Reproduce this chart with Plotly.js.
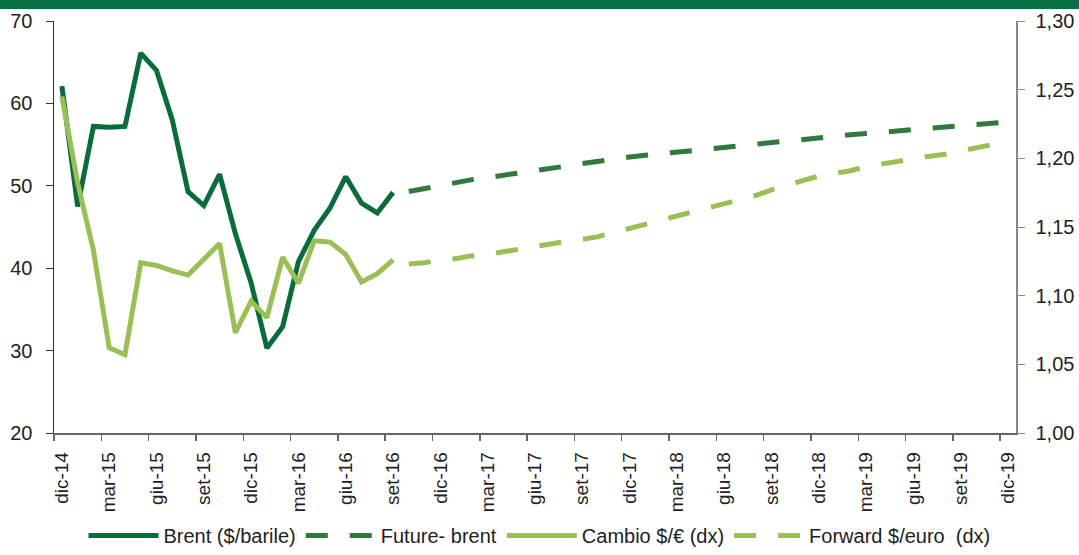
<!DOCTYPE html>
<html>
<head>
<meta charset="utf-8">
<script src="https://cdn.plot.ly/plotly-3.0.1.min.js"></script>
<style>
  html, body { margin: 0; padding: 0; background: #fff; }
  #topbar { position: absolute; left: 0; top: 0; width: 1079px; height: 9px; background: #087044; }
  #chart { width: 1079px; height: 555px; }
</style>
</head>
<body>
<div id="chart"></div>
<div id="topbar"></div>
<script>
// months dic-14 .. dic-19 (61 categories), labels every quarter
const tickLabels = [
  'dic-14', 'mar-15', 'giu-15', 'set-15', 'dic-15', 'mar-16', 'giu-16', 'set-16',
  'dic-16', 'mar-17', 'giu-17', 'set-17', 'dic-17', 'mar-18', 'giu-18', 'set-18',
  'dic-18', 'mar-19', 'giu-19', 'set-19', 'dic-19',
];
const tickPos = tickLabels.map((_, i) => i * 3);

// Brent spot, dic-14 .. set-16
const brent = [
  62.1, 47.5, 57.2, 57.1, 57.2, 66.1, 64.0, 58.0, 49.3, 47.6, 51.4,
  44.2, 38.2, 30.3, 32.9, 40.8, 44.6, 47.3, 51.1, 47.9, 46.7, 49.2,
];
// Cambio $/€, dic-14 .. set-16
const cambio = [
  1.245, 1.182, 1.133, 1.062, 1.057, 1.124, 1.122, 1.118, 1.115, 1.127, 1.138,
  1.073, 1.096, 1.084, 1.128, 1.109, 1.140, 1.139, 1.130, 1.110, 1.116, 1.126,
];
// Future brent, ott-16 .. dic-19
const futureBrent = [
  49.3, 49.7, 50.1, 50.5, 50.75, 51.0, 51.25, 51.5, 51.8, 52.1,
  52.4, 52.7, 53.0, 53.25, 53.5, 53.7, 53.9, 54.1, 54.3, 54.5,
  54.7, 54.9, 55.1, 55.3, 55.5, 55.7, 55.9, 56.05, 56.2, 56.35,
  56.5, 56.65, 56.8, 56.95, 57.1, 57.25, 57.4, 57.6, 57.75,
];
// Forward $/euro, ott-16 .. dic-19
const forwardEuro = [
  1.123, 1.124, 1.126, 1.127, 1.129, 1.130, 1.132, 1.134, 1.136, 1.138,
  1.1395, 1.141, 1.143, 1.146, 1.149, 1.152, 1.155, 1.158, 1.161, 1.164,
  1.167, 1.170, 1.173, 1.177, 1.180, 1.184, 1.187, 1.189, 1.191, 1.194,
  1.196, 1.198, 1.200, 1.2015, 1.203, 1.2055, 1.208, 1.210, 1.212,
];

const spotX = brent.map((_, i) => i);
const fwdX = futureBrent.map((_, i) => i + brent.length);

const DARK = '#0a6c3b';
const MID = '#2f7a3c';
const LIGHT = '#9bbf57';
const DASH = '22px,22px';

const traces = [
  {
    x: spotX, y: brent, name: 'Brent ($/barile)', type: 'scatter', mode: 'lines',
    line: { color: DARK, width: 5 },
  },
  {
    x: fwdX, y: futureBrent, name: 'Future- brent', type: 'scatter', mode: 'lines',
    line: { color: MID, width: 5, dash: DASH },
  },
  {
    x: spotX, y: cambio, name: 'Cambio $/€ (dx)', type: 'scatter', mode: 'lines', yaxis: 'y2',
    line: { color: LIGHT, width: 5 },
  },
  {
    x: fwdX, y: forwardEuro, name: 'Forward $/euro  (dx)', type: 'scatter', mode: 'lines', yaxis: 'y2',
    line: { color: LIGHT, width: 5, dash: DASH },
  },
];

const FONT = 'Liberation Sans, Arial, sans-serif';

const layout = {
  width: 1079,
  height: 555,
  margin: { l: 54, r: 63, t: 21, b: 122, autoexpand: false },
  separators: ',.',
  plot_bgcolor: '#fff',
  paper_bgcolor: '#fff',
  font: { family: FONT, color: '#222' },
  xaxis: {
    range: [-0.5, 60.5],
    tickmode: 'array',
    tickvals: tickPos,
    ticktext: tickLabels,
    tickangle: -90,
    ticks: '',
    tickfont: { size: 19, color: '#222' },
    ticklabelstandoff: 10,
    showgrid: false,
    zeroline: false,
    showline: true,
    linecolor: '#666',
    linewidth: 1.5,
    minor: { tick0: -0.5, dtick: 3, ticks: 'outside', ticklen: 6, tickcolor: '#666', tickwidth: 1.5, showgrid: false },
  },
  yaxis: {
    range: [20, 70],
    dtick: 10,
    ticks: 'outside',
    ticklen: 7,
    tickcolor: '#333',
    tickfont: { size: 20, color: '#222' },
    ticklabelstandoff: 9,
    showgrid: false,
    zeroline: false,
    showline: true,
    linecolor: '#333',
    linewidth: 1.5,
  },
  yaxis2: {
    overlaying: 'y',
    side: 'right',
    range: [1.0, 1.3],
    dtick: 0.05,
    tickformat: '.2f',
    ticks: 'outside',
    ticklen: 7,
    tickcolor: '#888',
    tickfont: { size: 20, color: '#222' },
    ticklabelstandoff: 7,
    showgrid: false,
    zeroline: false,
    showline: true,
    linecolor: '#888',
    linewidth: 1.5,
  },
  showlegend: true,
  legend: {
    orientation: 'h',
    x: 0.5,
    xref: 'container',
    xanchor: 'center',
    y: 0,
    yref: 'container',
    yanchor: 'bottom',
    itemwidth: 70,
    font: { size: 20, color: '#222' },
    traceorder: 'normal',
  },
};

Plotly.newPlot('chart', traces, layout, { displayModeBar: false, staticPlot: true });
</script>
</body>
</html>
